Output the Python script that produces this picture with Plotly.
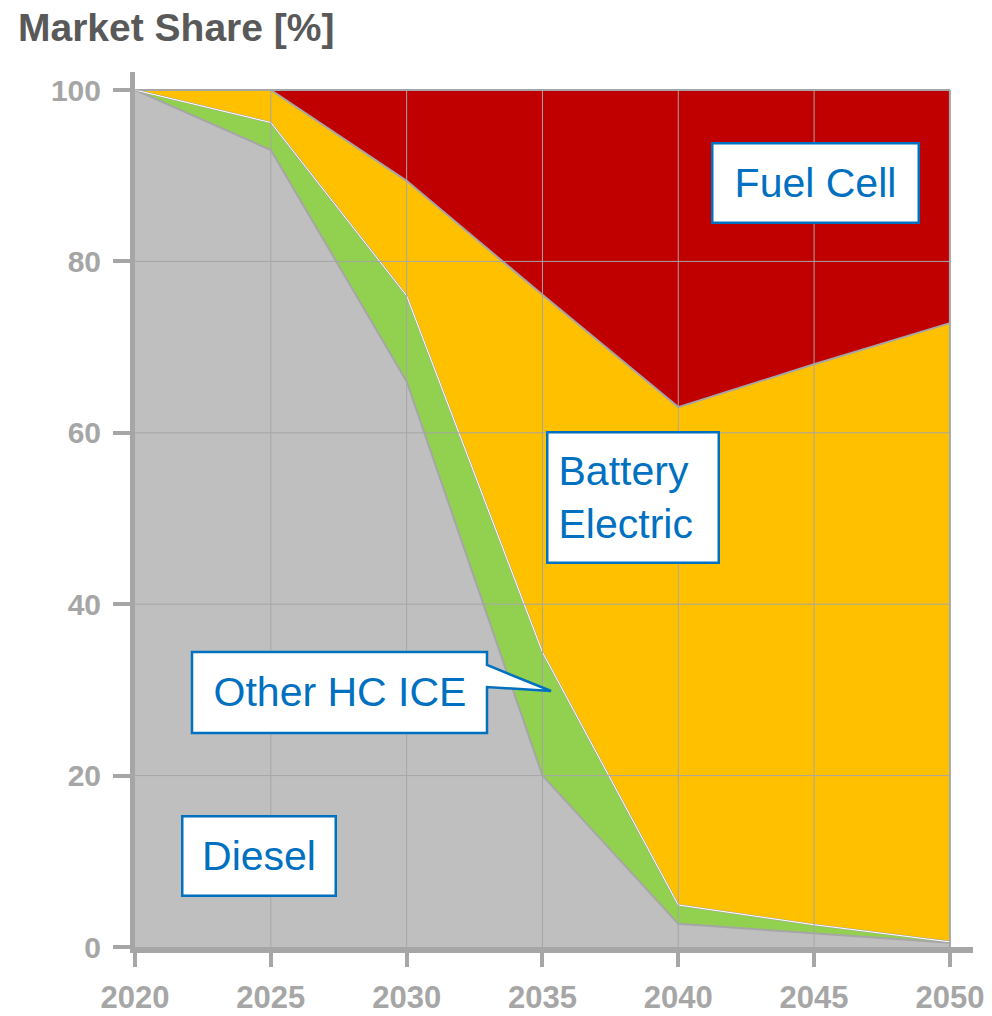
import plotly.graph_objects as go

# ---- data ----
years = [2020, 2025, 2030, 2035, 2040, 2045, 2050]
diesel = [100, 93, 66, 20, 2.7, 1.6, 0.5]
other_hc_ice = [0, 3.2, 10, 14.4, 2.2, 1.0, 0.1]
battery_electric = [0, 3.8, 13.4, 41.7, 58.1, 65.4, 72.2]
fuel_cell = [0, 0, 10.6, 23.9, 37.0, 32.0, 27.2]

x_tick_labels = ["2020", "2025", "2030", "2035", "2040", "2045", "2050"]
y_ticks = [0, 20, 40, 60, 80, 100]
y_tick_labels = ["0", "20", "40", "60", "80", "100"]

# ---- styling ----
W, H = 992, 1016
ML, MR, MT, MB = 135, 19, 72, 69
PW, PH = W - ML - MR, H - MT - MB
AXIS_GREY = "#A6A6A6"
BLUE = "#0070C0"
FONT = "Liberation Sans"


def px(xp):
    return (xp - ML) / PW


def py(yp):
    return (H - MB - yp) / PH


fig = go.Figure()
series = [
    ("Diesel", diesel, "#BFBFBF"),
    ("Other HC ICE", other_hc_ice, "#92D050"),
    ("Battery Electric", battery_electric, "#FFC000"),
    ("Fuel Cell", fuel_cell, "#C00000"),
]
for name, vals, col in series:
    fig.add_trace(go.Scatter(
        x=years, y=vals, name=name, mode="lines", stackgroup="one",
        line=dict(color=AXIS_GREY, width=2), fillcolor=col, showlegend=False,
        hoverinfo="x+y+name",
    ))

# thin white highlight on the ICE / BEV boundary
ice_top = [d + o for d, o in zip(diesel, other_hc_ice)]
fig.add_trace(go.Scatter(x=years, y=ice_top, mode="lines",
                         line=dict(color="white", width=1),
                         showlegend=False, hoverinfo="skip"))

shapes = []
# gridlines drawn above the areas
for yr in years[1:]:
    shapes.append(dict(type="line", xref="x", yref="y", x0=yr, x1=yr, y0=0, y1=100,
                       line=dict(color=AXIS_GREY, width=2 if yr == years[-1] else 1),
                       layer="above"))
for v in y_ticks[1:]:
    shapes.append(dict(type="line", xref="x", yref="y", x0=years[0], x1=years[-1], y0=v, y1=v,
                       line=dict(color=AXIS_GREY, width=1), layer="above"))

# callout box with tail for "Other HC ICE"
bx0, bx1, by0, by1 = 192, 487, 652, 733
path = (f"M {px(bx0)},{py(by0)} L {px(bx1)},{py(by0)} L {px(bx1)},{py(665)} "
        f"L {px(551)},{py(691)} L {px(bx1)},{py(687)} L {px(bx1)},{py(by1)} "
        f"L {px(bx0)},{py(by1)} Z")
shapes.append(dict(type="path", xref="paper", yref="paper", path=path,
                   fillcolor="white", line=dict(color=BLUE, width=2.5), layer="above"))

ann_font = dict(family=FONT, size=41, color=BLUE)


def box(text, x0, x1, y0, y1, border=True, align="center"):
    return dict(
        text=text, xref="paper", yref="paper",
        x=px((x0 + x1) / 2), y=py((y0 + y1) / 2),
        xanchor="center", yanchor="middle", showarrow=False,
        align=align, font=ann_font,
        width=(x1 - x0) - 25, height=(y1 - y0) - 25,
        borderpad=10, borderwidth=2.5 if border else 0,
        bordercolor=BLUE, bgcolor="white" if border else "rgba(0,0,0,0)",
    )


annotations = [
    box("Fuel Cell", 711, 920, 142, 224),
    box("Battery<br>Electric", 546, 720, 431, 564, align="left"),
    box("Other HC ICE", bx0, bx1, by0, by1, border=False),
    box("Diesel", 181, 337, 815, 897),
]

fig.update_layout(
    width=W, height=H, autosize=False,
    margin=dict(l=ML, r=MR, t=MT, b=MB, pad=0),
    paper_bgcolor="white", plot_bgcolor="white",
    title=dict(text="<b>Market Share [%]</b>", xref="container", yref="container",
               x=18 / W, xanchor="left", y=1 - 27 / H, yanchor="middle",
               font=dict(family=FONT, size=39, color="#595959")),
    shapes=shapes, annotations=annotations,
    xaxis=dict(range=[2020, 2050.85], tickvals=years, ticktext=x_tick_labels,
               automargin=False,
               showgrid=False, zeroline=False, showline=True,
               linecolor=AXIS_GREY, linewidth=6, ticks="outside", ticklen=14,
               tickwidth=4, tickcolor=AXIS_GREY, ticklabelstandoff=4,
               tickfont=dict(family=FONT, size=31, color=AXIS_GREY, weight="bold")),
    yaxis=dict(range=[0, 102.1], tickvals=y_ticks, ticktext=y_tick_labels,
               automargin=False,
               showgrid=False, zeroline=False, showline=True,
               linecolor=AXIS_GREY, linewidth=5, ticks="outside", ticklen=17,
               tickwidth=4, tickcolor=AXIS_GREY, ticklabelstandoff=6,
               tickfont=dict(family=FONT, size=30, color=AXIS_GREY, weight="bold")),
)

fig.write_html("out.html", config={"displayModeBar": False},
               post_script="document.body.style.margin='0';")
